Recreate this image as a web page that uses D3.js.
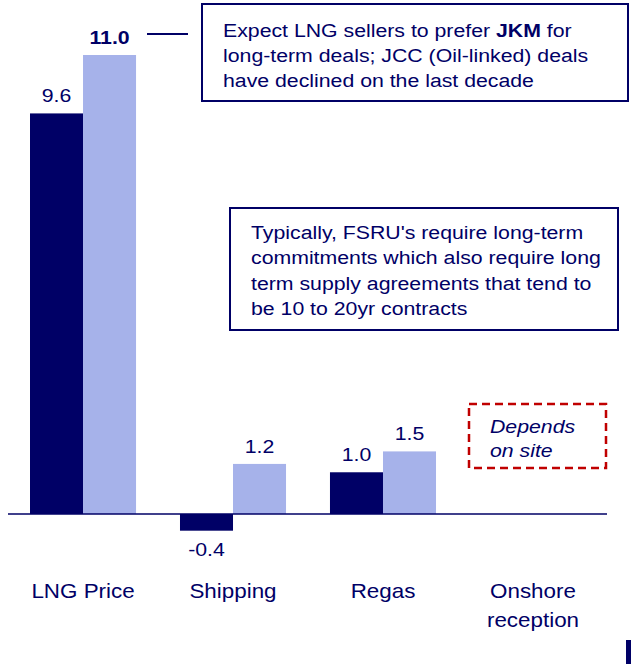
<!DOCTYPE html>
<html>
<head>
<meta charset="utf-8">
<script src="https://cdn.jsdelivr.net/npm/d3@7"></script>
<style>
  body { margin: 0; background: #fff; }
  svg { display: block; font-family: Arial, "Liberation Sans", sans-serif; }
</style>
</head>
<body>
<div id="chart"></div>
<script>
// chart values
const categories = ["LNG Price", "Shipping", "Regas", "Onshore reception"];
const categoryLines = [["LNG Price"], ["Shipping"], ["Regas"], ["Onshore", "reception"]];
const seriesNames = ["current", "expected"];
const currentValues = [9.6, -0.4, 1.0, null];
const expectedValues = [11.0, 1.2, 1.5, null];
const boldLabels = [[false, true], [false, false], [false, false], [false, false]];

const noteTop = [["Expect LNG sellers to prefer ", "JKM", " for"], ["long-term deals; JCC (Oil-linked) deals"], ["have declined on the last decade"]];
const noteMid = ["Typically, FSRU's require long-term", "commitments which also require long", "term supply agreements that tend to", "be 10 to 20yr contracts"];
const noteSite = ["Depends", "on site"];

const W = 631, H = 664;
const SX = 1.12; // the slide text is a bit wider than normal
const NAVY = "#000066";
const LIGHT = "#a6b2ea";
const colors = { current: NAVY, expected: LIGHT };

const svg = d3.select("#chart").append("svg")
  .attr("width", W)
  .attr("height", H);

// helper: text stretched horizontally like the original
function stretched(sel, x, y) {
  return sel.attr("transform", `translate(${x},${y}) scale(${SX},1)`);
}

let x0 = d3.scaleBand()
  .domain(categories)
  .range([8, 608])
  .paddingInner(0.293)
  .paddingOuter(0.1467);

let x1 = d3.scaleBand()
  .domain(seriesNames)
  .range([0, x0.bandwidth()]);

let y = d3.scaleLinear()
  .domain([0, 11])
  .range([514, 55]);

let rows = [];
categories.forEach((c, i) => {
  [currentValues[i], expectedValues[i]].forEach((v, j) => {
    if (v !== null) rows.push({ cat: c, s: seriesNames[j], v: v, bold: boldLabels[i][j] });
  });
});

// bars
svg.append("g")
  .selectAll("rect")
  .data(rows)
  .enter()
  .append("rect")
  .attr("x", d => x0(d.cat) + x1(d.s))
  .attr("width", x1.bandwidth())
  .attr("y", d => y(Math.max(0, d.v)))
  .attr("height", d => Math.abs(y(d.v) - y(0)))
  .attr("fill", d => colors[d.s]);

// baseline
svg.append("line")
  .attr("x1", 8).attr("x2", 607)
  .attr("y1", y(0)).attr("y2", y(0))
  .attr("stroke", NAVY)
  .attr("stroke-width", 1.5);

// value labels
svg.append("g")
  .selectAll("text")
  .data(rows)
  .enter()
  .append("text")
  .attr("text-anchor", "middle")
  .attr("fill", NAVY)
  .attr("font-size", 19)
  .attr("font-weight", d => d.bold ? "bold" : "normal")
  .text(d => d.v.toFixed(1))
  .each(function(d) {
    let cx = x0(d.cat) + x1(d.s) + x1.bandwidth() / 2;
    let ty = d.v >= 0 ? y(d.v) - 11 : y(d.v) + 25;
    stretched(d3.select(this), cx, ty);
  });

// category labels
categories.forEach((c, i) => {
  let t = svg.append("text")
    .attr("text-anchor", "middle")
    .attr("fill", NAVY)
    .attr("font-size", 20);
  stretched(t, x0(c) + x0.bandwidth() / 2, 598);
  categoryLines[i].forEach((line, k) => {
    t.append("tspan").attr("x", 0).attr("y", k * 29).text(line);
  });
});

// top callout
svg.append("line")
  .attr("x1", 147).attr("x2", 188)
  .attr("y1", 34).attr("y2", 34)
  .attr("stroke", NAVY).attr("stroke-width", 2);

svg.append("rect")
  .attr("x", 202).attr("y", 4)
  .attr("width", 426).attr("height", 97)
  .attr("fill", "none").attr("stroke", NAVY).attr("stroke-width", 2);

let t1 = svg.append("text").attr("fill", NAVY).attr("font-size", 19);
stretched(t1, 223, 37);
noteTop.forEach((parts, k) => {
  parts.forEach((p, m) => {
    let ts = t1.append("tspan").text(p);
    if (m === 0) ts.attr("x", 0).attr("y", k * 25);
    if (p === "JKM") ts.attr("font-weight", "bold");
  });
});

// middle callout
svg.append("rect")
  .attr("x", 230).attr("y", 208)
  .attr("width", 388).attr("height", 122)
  .attr("fill", "none").attr("stroke", NAVY).attr("stroke-width", 2);

let t2 = svg.append("text").attr("fill", NAVY).attr("font-size", 19);
stretched(t2, 251, 239);
noteMid.forEach((line, k) => {
  t2.append("tspan").attr("x", 0).attr("y", k * 25.5).text(line);
});

// dashed note
svg.append("rect")
  .attr("x", 469).attr("y", 404)
  .attr("width", 137).attr("height", 64)
  .attr("fill", "none").attr("stroke", "#c00000")
  .attr("stroke-width", 2.5)
  .attr("stroke-dasharray", "8,5");

let t3 = svg.append("text").attr("fill", NAVY).attr("font-size", 19).attr("font-style", "italic");
stretched(t3, 490, 433);
noteSite.forEach((line, k) => {
  t3.append("tspan").attr("x", 0).attr("y", k * 24).text(line);
});

// little slide marker bottom right
svg.append("rect")
  .attr("x", 626).attr("y", 640)
  .attr("width", 5).attr("height", 24)
  .attr("fill", NAVY);
</script>
</body>
</html>
